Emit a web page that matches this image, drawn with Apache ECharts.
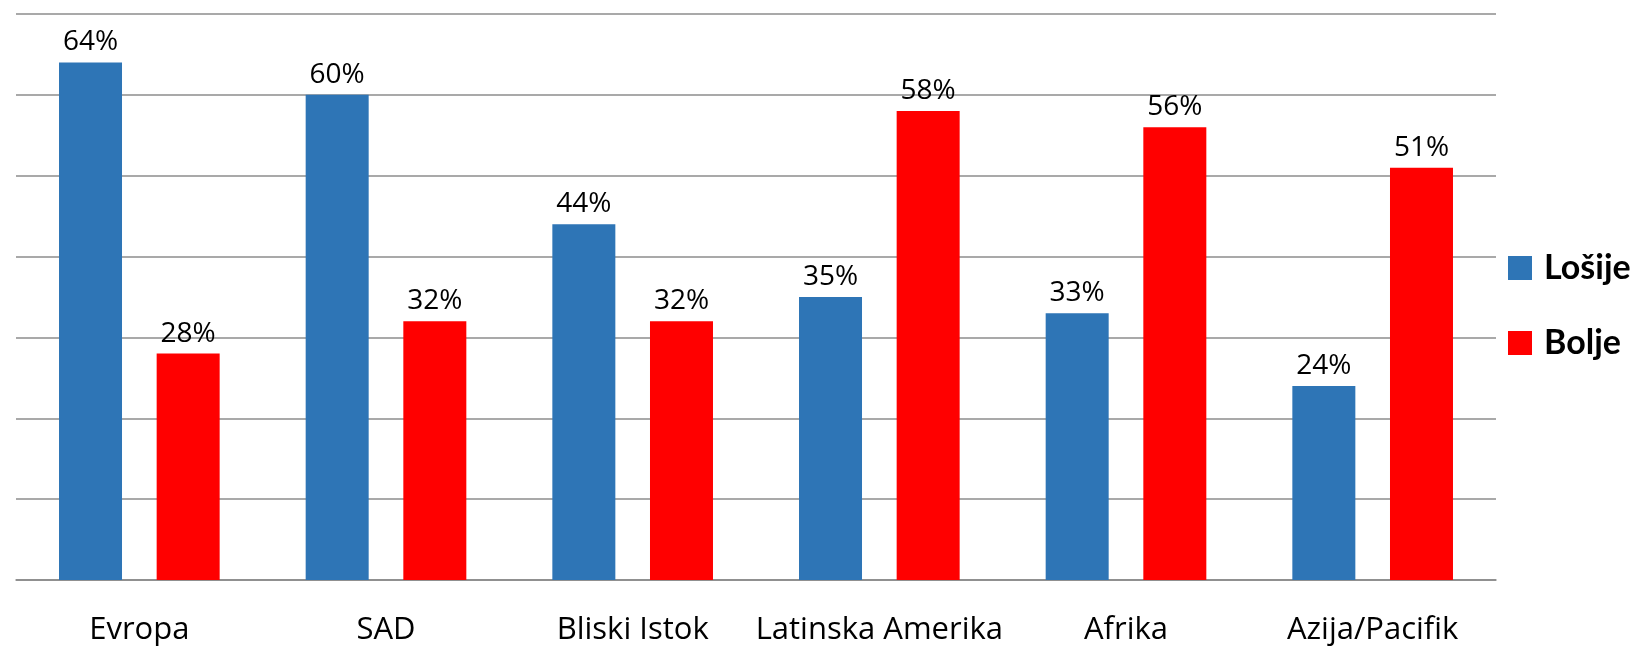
<!DOCTYPE html>
<html>
<head>
<meta charset="utf-8">
<script src="https://cdn.jsdelivr.net/npm/echarts@6/dist/echarts.min.js"></script>
<style>
html,body{margin:0;padding:0;background:#fff;}
#chart{width:1644px;height:647px;}
</style>
</head>
<body>
<div id="chart"></div>
<script>
const categories = ['Evropa', 'SAD', 'Bliski Istok', 'Latinska Amerika', 'Afrika', 'Azija/Pacifik'];
const losije = [64, 60, 44, 35, 33, 24];
const bolje = [28, 32, 32, 58, 56, 51];
const seriesNames = ['Lošije', 'Bolje'];

const chart = echarts.init(document.getElementById('chart'));
const font = '"Open Sans", "Noto Sans", sans-serif';
const labelCfg = {
  show: true, position: 'top', distance: 6,
  formatter: p => p.value + '%',
  color: '#000', fontSize: 28, fontFamily: font
};
chart.setOption({
  animation: false,
  grid: { left: 16, right: 148, top: 14, bottom: 67 },
  legend: {
    orient: 'vertical', left: 1503, top: 246,
    itemWidth: 24, itemHeight: 24, itemGap: 41,
    icon: 'rect',
    textStyle: { fontSize: 34, fontWeight: 'bold', color: '#000', fontFamily: 'Lato, "Open Sans", sans-serif', lineHeight: 24, padding: [0,0,0,7] },
    data: seriesNames
  },
  xAxis: {
    type: 'category', data: categories,
    axisLine: { lineStyle: { color: '#888', width: 1.5 } },
    axisTick: { show: false },
    axisLabel: { color: '#000', fontSize: 31, fontFamily: font, margin: 35, interval: 0 }
  },
  yAxis: {
    type: 'value', min: 0, max: 70, interval: 10,
    axisLabel: { show: false }, axisLine: { show: false }, axisTick: { show: false },
    splitLine: { lineStyle: { color: '#8c8c8c', width: 1.5 } }
  },
  series: [
    { name: seriesNames[0], type: 'bar', data: losije, barWidth: 63, barGap: '55%',
      itemStyle: { color: '#2E75B6' }, label: labelCfg },
    { name: seriesNames[1], type: 'bar', data: bolje, barWidth: 63,
      itemStyle: { color: '#FF0000' }, label: labelCfg }
  ]
});
</script>
</body>
</html>
